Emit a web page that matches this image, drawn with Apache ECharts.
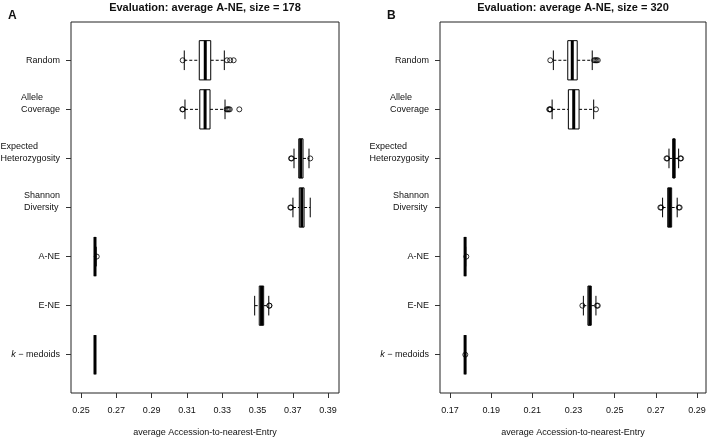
<!DOCTYPE html>
<html>
<head>
<meta charset="utf-8">
<script src="https://cdn.jsdelivr.net/npm/echarts@6/dist/echarts.min.js"></script>
<style>html,body{margin:0;padding:0;background:#fff}#c{width:709px;height:439px}</style>
</head>
<body>
<div id="c"></div>
<script>
// ---- data ----
const categories = ['Random', 'Allele\nCoverage', 'Expected\nHeterozygosity', 'Shannon\nDiversity', 'A-NE', 'E-NE', 'k \u2212 medoids'];
const catPos = [1, 2, 3, 4, 5, 6, 7];

const titleA = 'Evaluation: average A-NE, size = 178';
const titleB = 'Evaluation: average A-NE, size = 320';
const xTitle = 'average Accession-to-nearest-Entry';

const xTicksA = [0.25, 0.27, 0.29, 0.31, 0.33, 0.35, 0.37, 0.39];
const xTicksB = [0.17, 0.19, 0.21, 0.23, 0.25, 0.27, 0.29];

// panel A (size 178)
const lowA  = [0.3085, 0.3089, 0.3707, 0.3701, 0.2579, 0.3484, 0.2579];
const q1A   = [0.3170, 0.3173, 0.3734, 0.3737, 0.2579, 0.3510, 0.2579];
const medA  = [0.3204, 0.3203, 0.3745, 0.3751, 0.2579, 0.3523, 0.2579];
const q3A   = [0.3235, 0.3231, 0.3758, 0.3764, 0.2579, 0.3535, 0.2579];
const highA = [0.3312, 0.3316, 0.3792, 0.3799, 0.2586, 0.3564, 0.2579];
const outA  = [
  [0.3076, 0.3327, 0.3345, 0.3365],
  [0.3074, 0.3077, 0.3325, 0.3331, 0.3337, 0.3343, 0.3397],
  [0.3690, 0.3694, 0.3799],
  [0.3686, 0.3690],
  [0.2589],
  [0.3567, 0.3568],
  []
];

// panel B (size 320)
const lowB  = [0.2202, 0.2196, 0.2764, 0.2733, 0.1773, 0.2348, 0.1773];
const q1B   = [0.2272, 0.2275, 0.2783, 0.2758, 0.1773, 0.2370, 0.1773];
const medB  = [0.2294, 0.2301, 0.2788, 0.2767, 0.1773, 0.2379, 0.1773];
const q3B   = [0.2318, 0.2327, 0.2793, 0.2777, 0.1773, 0.2386, 0.1773];
const highB = [0.2391, 0.2398, 0.2811, 0.2804, 0.1776, 0.2409, 0.1773];
const outB  = [
  [0.2187, 0.2400, 0.2406, 0.2412, 0.2418],
  [0.2182, 0.2185, 0.2188, 0.2409],
  [0.2752, 0.2756, 0.2819, 0.2823],
  [0.2722, 0.2726, 0.2812, 0.2816],
  [0.1779],
  [0.2343, 0.2414, 0.2418],
  [0.1774]
];

// ---- chart ----
const FONT = '"Liberation Sans", Arial, Helvetica, sans-serif';
const chart = echarts.init(document.getElementById('c'), null, {renderer: 'canvas'});

function boxData(lo, q1, md, q3, hi) {
  return catPos.map((p, i) => [p, lo[i], q1[i], md[i], q3[i], hi[i]]);
}
function outData(out) {
  const d = [];
  out.forEach((arr, i) => arr.forEach(v => d.push([v, catPos[i]])));
  return d;
}

function renderBox(params, api) {
  const y = api.value(0);
  const lo = api.coord([api.value(1), y]);
  const q1 = api.coord([api.value(2), y]);
  const md = api.coord([api.value(3), y]);
  const q3 = api.coord([api.value(4), y]);
  const hi = api.coord([api.value(5), y]);
  const h = Math.abs(api.size([0, 0.8])[1]);
  const cy = lo[1];
  const half = h / 2, st = h / 4;
  const dash = {stroke: '#000', lineWidth: 1, lineDash: [3, 2]};
  const solid = {stroke: '#000', lineWidth: 1};
  const children = [];
  if (q1[0] - lo[0] > 0.5) children.push({type: 'line', shape: {x1: lo[0], y1: cy, x2: q1[0], y2: cy}, style: dash});
  if (hi[0] - q3[0] > 0.5) children.push({type: 'line', shape: {x1: q3[0], y1: cy, x2: hi[0], y2: cy}, style: dash});
  children.push({type: 'line', shape: {x1: lo[0], y1: cy - st, x2: lo[0], y2: cy + st}, style: solid});
  children.push({type: 'line', shape: {x1: hi[0], y1: cy - st, x2: hi[0], y2: cy + st}, style: solid});
  children.push({type: 'rect', shape: {x: q1[0], y: cy - half, width: Math.max(q3[0] - q1[0], 0), height: h},
                 style: {fill: '#fff', stroke: '#000', lineWidth: 1}});
  children.push({type: 'line', shape: {x1: md[0], y1: cy - half, x2: md[0], y2: cy + half}, style: {stroke: '#000', lineWidth: 3}});
  return {type: 'group', children: children};
}

function yLabel(v) {
  const idx = Math.round(v) - 1;
  const name = categories[idx];
  if (name === undefined) return '';
  if (name.indexOf('k \u2212') === 0) return '{i|k}{l| \u2212 medoids}';
  const lines = name.split('\n');
  let s = lines.map(t => '{l|' + t + '}').join('\n');
  if (lines.length > 1) s += '\n{l| }';
  return s;
}

function xAxisCfg(gi, min, max, ticks) {
  return {
    gridIndex: gi, type: 'value', min: min, max: max,
    axisLine: {show: false},
    splitLine: {show: false},
    axisTick: {show: true, customValues: ticks, length: 5, lineStyle: {color: '#333', width: 1}},
    axisLabel: {customValues: ticks, formatter: v => v.toFixed(2), fontSize: 9, fontFamily: FONT, color: '#111', margin: 13},
    name: xTitle, nameLocation: 'middle', nameGap: 35,
    nameTextStyle: {fontSize: 9, fontFamily: FONT, color: '#111'}
  };
}
function yAxisCfg(gi) {
  return {
    gridIndex: gi, type: 'value', min: 0.22, max: 7.78, inverse: true,
    axisLine: {show: false},
    splitLine: {show: false},
    axisTick: {show: true, customValues: catPos, length: 5, lineStyle: {color: '#333', width: 1}},
    axisLabel: {
      customValues: catPos, formatter: yLabel, margin: 11, align: 'right',
      rich: {
        l: {fontSize: 9, fontFamily: FONT, color: '#111', lineHeight: 12, align: 'left'},
        i: {fontSize: 9, fontFamily: FONT, color: '#111', lineHeight: 12, fontStyle: 'italic', align: 'left'}
      }
    }
  };
}

const option = {
  animation: false,
  backgroundColor: '#fff',
  grid: [
    {left: 71, right: 370, top: 22, bottom: 46, outerBoundsMode: 'none', containLabel: false,
     show: true, borderColor: '#222', borderWidth: 1, backgroundColor: 'transparent'},
    {left: 440, right: 3, top: 22, bottom: 46, outerBoundsMode: 'none', containLabel: false,
     show: true, borderColor: '#222', borderWidth: 1, backgroundColor: 'transparent'}
  ],
  xAxis: [xAxisCfg(0, 0.2443, 0.3962, xTicksA), xAxisCfg(1, 0.1651, 0.2944, xTicksB)],
  yAxis: [yAxisCfg(0), yAxisCfg(1)],
  graphic: [
    {type: 'text', x: 205, y: 2, style: {text: titleA, align: 'center', verticalAlign: 'top', fontSize: 11, fontWeight: 'bold', fontFamily: FONT, fill: '#111'}},
    {type: 'text', x: 573, y: 2, style: {text: titleB, align: 'center', verticalAlign: 'top', fontSize: 11, fontWeight: 'bold', fontFamily: FONT, fill: '#111'}},
    {type: 'text', x: 8, y: 10, style: {text: 'A', align: 'left', verticalAlign: 'top', fontSize: 12, fontWeight: 'bold', fontFamily: FONT, fill: '#111'}},
    {type: 'text', x: 387, y: 10, style: {text: 'B', align: 'left', verticalAlign: 'top', fontSize: 12, fontWeight: 'bold', fontFamily: FONT, fill: '#111'}}
  ],
  series: [
    {type: 'custom', xAxisIndex: 0, yAxisIndex: 0, renderItem: renderBox, data: boxData(lowA, q1A, medA, q3A, highA),
     encode: {x: [1, 2, 3, 4, 5], y: 0}, clip: false, silent: true},
    {type: 'custom', xAxisIndex: 1, yAxisIndex: 1, renderItem: renderBox, data: boxData(lowB, q1B, medB, q3B, highB),
     encode: {x: [1, 2, 3, 4, 5], y: 0}, clip: false, silent: true},
    {type: 'scatter', xAxisIndex: 0, yAxisIndex: 0, data: outData(outA), symbol: 'circle', symbolSize: 5,
     itemStyle: {color: 'transparent', borderColor: '#000', borderWidth: 1}, silent: true, z: 3},
    {type: 'scatter', xAxisIndex: 1, yAxisIndex: 1, data: outData(outB), symbol: 'circle', symbolSize: 5,
     itemStyle: {color: 'transparent', borderColor: '#000', borderWidth: 1}, silent: true, z: 3}
  ]
};
chart.setOption(option);
</script>
</body>
</html>
